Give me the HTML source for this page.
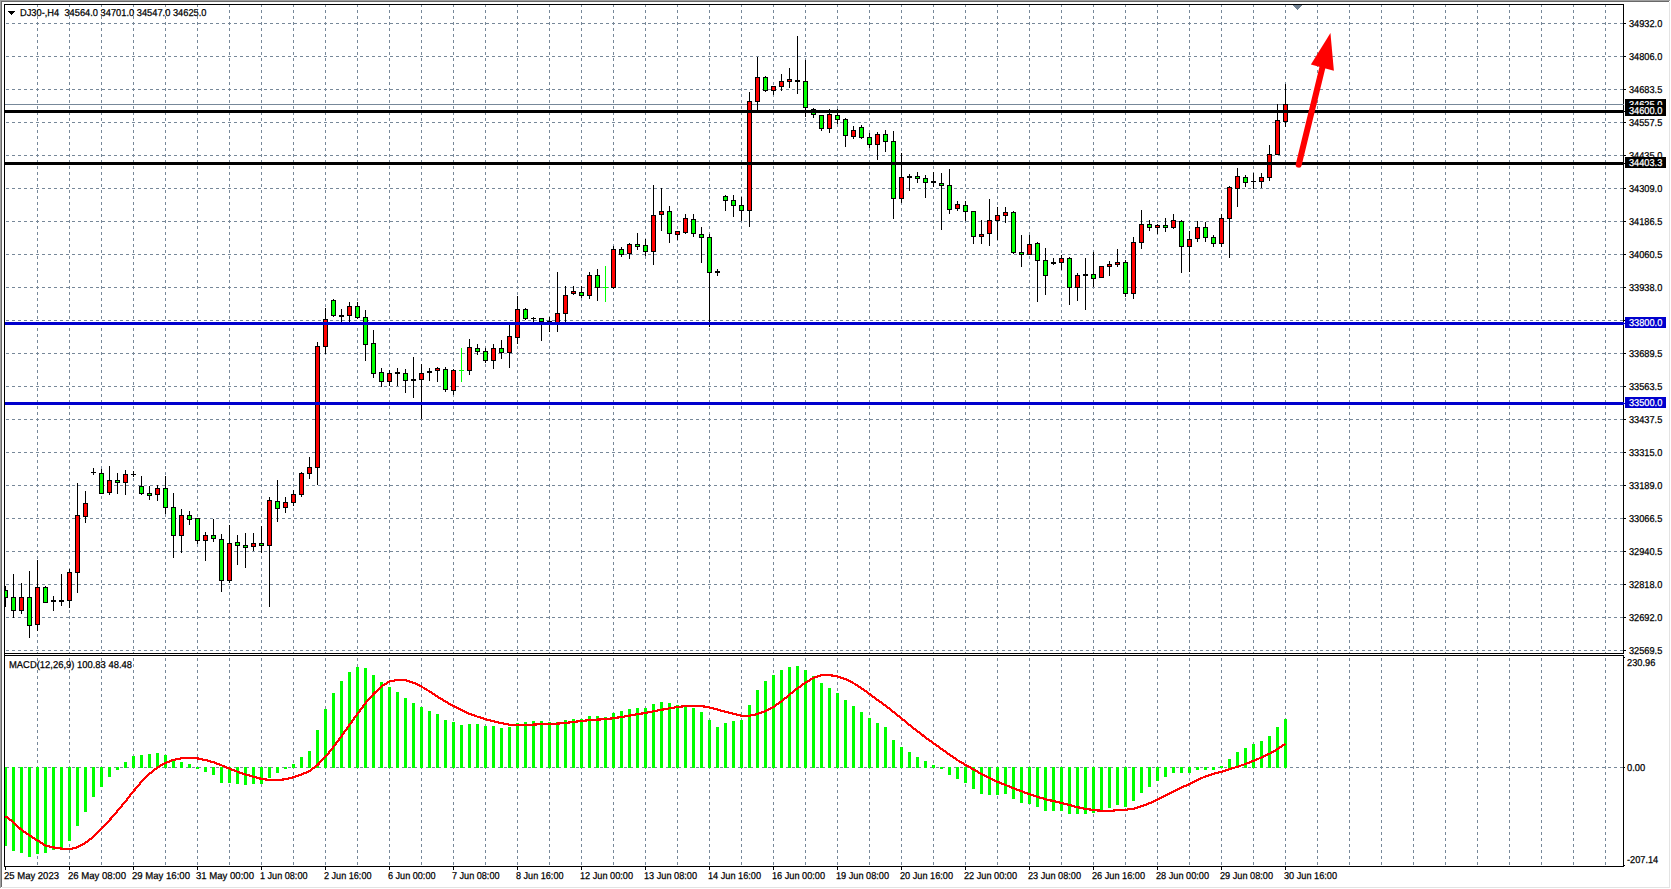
<!DOCTYPE html>
<html lang="en"><head><meta charset="utf-8"><title>DJ30-,H4</title>
<style>html,body{margin:0;padding:0;background:#fff;overflow:hidden}svg{display:block}text{font-family:"Liberation Sans",sans-serif;font-size:10px;fill:#000;stroke:#000;stroke-width:0.25px;text-rendering:geometricPrecision}</style></head><body>
<svg width="1671" height="889" viewBox="0 0 1671 889">
<rect width="1671" height="889" fill="#fff"/>
<g shape-rendering="crispEdges">
<rect x="0" y="0" width="1670" height="1" fill="#a0a0a0"/>
<rect x="0" y="0" width="1" height="888" fill="#a0a0a0"/>
<rect x="1" y="1" width="1668" height="1" fill="#696969"/>
<rect x="1" y="1" width="1" height="886" fill="#696969"/>
<rect x="1669" y="2" width="1" height="886" fill="#e3e3e3"/>
<rect x="2" y="887" width="1668" height="1" fill="#e3e3e3"/>
<g stroke="#778899" stroke-width="1" stroke-dasharray="3 3" fill="none">
<line x1="37.5" y1="4" x2="37.5" y2="866"/>
<line x1="69.5" y1="4" x2="69.5" y2="866"/>
<line x1="101.5" y1="4" x2="101.5" y2="866"/>
<line x1="133.5" y1="4" x2="133.5" y2="866"/>
<line x1="165.5" y1="4" x2="165.5" y2="866"/>
<line x1="197.5" y1="4" x2="197.5" y2="866"/>
<line x1="229.5" y1="4" x2="229.5" y2="866"/>
<line x1="261.5" y1="4" x2="261.5" y2="866"/>
<line x1="293.5" y1="4" x2="293.5" y2="866"/>
<line x1="325.5" y1="4" x2="325.5" y2="866"/>
<line x1="357.5" y1="4" x2="357.5" y2="866"/>
<line x1="389.5" y1="4" x2="389.5" y2="866"/>
<line x1="421.5" y1="4" x2="421.5" y2="866"/>
<line x1="453.5" y1="4" x2="453.5" y2="866"/>
<line x1="485.5" y1="4" x2="485.5" y2="866"/>
<line x1="517.5" y1="4" x2="517.5" y2="866"/>
<line x1="549.5" y1="4" x2="549.5" y2="866"/>
<line x1="581.5" y1="4" x2="581.5" y2="866"/>
<line x1="613.5" y1="4" x2="613.5" y2="866"/>
<line x1="645.5" y1="4" x2="645.5" y2="866"/>
<line x1="677.5" y1="4" x2="677.5" y2="866"/>
<line x1="709.5" y1="4" x2="709.5" y2="866"/>
<line x1="741.5" y1="4" x2="741.5" y2="866"/>
<line x1="773.5" y1="4" x2="773.5" y2="866"/>
<line x1="805.5" y1="4" x2="805.5" y2="866"/>
<line x1="837.5" y1="4" x2="837.5" y2="866"/>
<line x1="869.5" y1="4" x2="869.5" y2="866"/>
<line x1="901.5" y1="4" x2="901.5" y2="866"/>
<line x1="933.5" y1="4" x2="933.5" y2="866"/>
<line x1="965.5" y1="4" x2="965.5" y2="866"/>
<line x1="997.5" y1="4" x2="997.5" y2="866"/>
<line x1="1029.5" y1="4" x2="1029.5" y2="866"/>
<line x1="1061.5" y1="4" x2="1061.5" y2="866"/>
<line x1="1093.5" y1="4" x2="1093.5" y2="866"/>
<line x1="1125.5" y1="4" x2="1125.5" y2="866"/>
<line x1="1157.5" y1="4" x2="1157.5" y2="866"/>
<line x1="1189.5" y1="4" x2="1189.5" y2="866"/>
<line x1="1221.5" y1="4" x2="1221.5" y2="866"/>
<line x1="1253.5" y1="4" x2="1253.5" y2="866"/>
<line x1="1285.5" y1="4" x2="1285.5" y2="866"/>
<line x1="1317.5" y1="4" x2="1317.5" y2="866"/>
<line x1="1349.5" y1="4" x2="1349.5" y2="866"/>
<line x1="1381.5" y1="4" x2="1381.5" y2="866"/>
<line x1="1413.5" y1="4" x2="1413.5" y2="866"/>
<line x1="1445.5" y1="4" x2="1445.5" y2="866"/>
<line x1="1477.5" y1="4" x2="1477.5" y2="866"/>
<line x1="1509.5" y1="4" x2="1509.5" y2="866"/>
<line x1="1541.5" y1="4" x2="1541.5" y2="866"/>
<line x1="1573.5" y1="4" x2="1573.5" y2="866"/>
<line x1="1605.5" y1="4" x2="1605.5" y2="866"/>
<line x1="6" y1="23.5" x2="1623" y2="23.5"/>
<line x1="6" y1="56.5" x2="1623" y2="56.5"/>
<line x1="6" y1="89.5" x2="1623" y2="89.5"/>
<line x1="6" y1="122.5" x2="1623" y2="122.5"/>
<line x1="6" y1="155.5" x2="1623" y2="155.5"/>
<line x1="6" y1="188.5" x2="1623" y2="188.5"/>
<line x1="6" y1="221.5" x2="1623" y2="221.5"/>
<line x1="6" y1="254.5" x2="1623" y2="254.5"/>
<line x1="6" y1="287.5" x2="1623" y2="287.5"/>
<line x1="6" y1="320.5" x2="1623" y2="320.5"/>
<line x1="6" y1="353.5" x2="1623" y2="353.5"/>
<line x1="6" y1="386.5" x2="1623" y2="386.5"/>
<line x1="6" y1="419.5" x2="1623" y2="419.5"/>
<line x1="6" y1="452.5" x2="1623" y2="452.5"/>
<line x1="6" y1="485.5" x2="1623" y2="485.5"/>
<line x1="6" y1="518.5" x2="1623" y2="518.5"/>
<line x1="6" y1="551.5" x2="1623" y2="551.5"/>
<line x1="6" y1="584.5" x2="1623" y2="584.5"/>
<line x1="6" y1="617.5" x2="1623" y2="617.5"/>
<line x1="6" y1="650.5" x2="1623" y2="650.5"/>
<line x1="6" y1="767.5" x2="1623" y2="767.5"/>
</g>
<rect x="5" y="104" width="1618" height="1" fill="#778899"/>
<rect x="4" y="767" width="3" height="79" fill="#00ff00"/>
<rect x="12" y="767" width="3" height="84" fill="#00ff00"/>
<rect x="20" y="767" width="3" height="86" fill="#00ff00"/>
<rect x="28" y="767" width="3" height="90" fill="#00ff00"/>
<rect x="36" y="767" width="3" height="87" fill="#00ff00"/>
<rect x="44" y="767" width="3" height="86" fill="#00ff00"/>
<rect x="52" y="767" width="3" height="83" fill="#00ff00"/>
<rect x="60" y="767" width="3" height="81" fill="#00ff00"/>
<rect x="68" y="767" width="3" height="74" fill="#00ff00"/>
<rect x="76" y="767" width="3" height="59" fill="#00ff00"/>
<rect x="84" y="767" width="3" height="45" fill="#00ff00"/>
<rect x="92" y="767" width="3" height="30" fill="#00ff00"/>
<rect x="100" y="767" width="3" height="20" fill="#00ff00"/>
<rect x="108" y="767" width="3" height="10" fill="#00ff00"/>
<rect x="116" y="767" width="3" height="3" fill="#00ff00"/>
<rect x="124" y="762" width="3" height="6" fill="#00ff00"/>
<rect x="132" y="756" width="3" height="12" fill="#00ff00"/>
<rect x="140" y="755" width="3" height="13" fill="#00ff00"/>
<rect x="148" y="754" width="3" height="14" fill="#00ff00"/>
<rect x="156" y="753" width="3" height="15" fill="#00ff00"/>
<rect x="164" y="755" width="3" height="13" fill="#00ff00"/>
<rect x="172" y="759" width="3" height="9" fill="#00ff00"/>
<rect x="180" y="762" width="3" height="6" fill="#00ff00"/>
<rect x="188" y="764" width="3" height="4" fill="#00ff00"/>
<rect x="196" y="767" width="3" height="2" fill="#00ff00"/>
<rect x="204" y="767" width="3" height="5" fill="#00ff00"/>
<rect x="212" y="767" width="3" height="8" fill="#00ff00"/>
<rect x="220" y="767" width="3" height="16" fill="#00ff00"/>
<rect x="228" y="767" width="3" height="16" fill="#00ff00"/>
<rect x="236" y="767" width="3" height="17" fill="#00ff00"/>
<rect x="244" y="767" width="3" height="18" fill="#00ff00"/>
<rect x="252" y="767" width="3" height="17" fill="#00ff00"/>
<rect x="260" y="767" width="3" height="17" fill="#00ff00"/>
<rect x="268" y="767" width="3" height="11" fill="#00ff00"/>
<rect x="276" y="767" width="3" height="6" fill="#00ff00"/>
<rect x="284" y="767" width="3" height="2" fill="#00ff00"/>
<rect x="292" y="764" width="3" height="4" fill="#00ff00"/>
<rect x="300" y="757" width="3" height="11" fill="#00ff00"/>
<rect x="308" y="751" width="3" height="17" fill="#00ff00"/>
<rect x="316" y="730" width="3" height="38" fill="#00ff00"/>
<rect x="324" y="709" width="3" height="59" fill="#00ff00"/>
<rect x="332" y="693" width="3" height="75" fill="#00ff00"/>
<rect x="340" y="681" width="3" height="87" fill="#00ff00"/>
<rect x="348" y="672" width="3" height="96" fill="#00ff00"/>
<rect x="356" y="667" width="3" height="101" fill="#00ff00"/>
<rect x="364" y="668" width="3" height="100" fill="#00ff00"/>
<rect x="372" y="675" width="3" height="93" fill="#00ff00"/>
<rect x="380" y="682" width="3" height="86" fill="#00ff00"/>
<rect x="388" y="687" width="3" height="81" fill="#00ff00"/>
<rect x="396" y="692" width="3" height="76" fill="#00ff00"/>
<rect x="404" y="698" width="3" height="70" fill="#00ff00"/>
<rect x="412" y="703" width="3" height="65" fill="#00ff00"/>
<rect x="420" y="707" width="3" height="61" fill="#00ff00"/>
<rect x="428" y="711" width="3" height="57" fill="#00ff00"/>
<rect x="436" y="714" width="3" height="54" fill="#00ff00"/>
<rect x="444" y="720" width="3" height="48" fill="#00ff00"/>
<rect x="452" y="722" width="3" height="46" fill="#00ff00"/>
<rect x="460" y="725" width="3" height="43" fill="#00ff00"/>
<rect x="468" y="724" width="3" height="44" fill="#00ff00"/>
<rect x="476" y="724" width="3" height="44" fill="#00ff00"/>
<rect x="484" y="726" width="3" height="42" fill="#00ff00"/>
<rect x="492" y="726" width="3" height="42" fill="#00ff00"/>
<rect x="500" y="728" width="3" height="40" fill="#00ff00"/>
<rect x="508" y="727" width="3" height="41" fill="#00ff00"/>
<rect x="516" y="723" width="3" height="45" fill="#00ff00"/>
<rect x="524" y="722" width="3" height="46" fill="#00ff00"/>
<rect x="532" y="721" width="3" height="47" fill="#00ff00"/>
<rect x="540" y="721" width="3" height="47" fill="#00ff00"/>
<rect x="548" y="722" width="3" height="46" fill="#00ff00"/>
<rect x="556" y="722" width="3" height="46" fill="#00ff00"/>
<rect x="564" y="720" width="3" height="48" fill="#00ff00"/>
<rect x="572" y="719" width="3" height="49" fill="#00ff00"/>
<rect x="580" y="719" width="3" height="49" fill="#00ff00"/>
<rect x="588" y="716" width="3" height="52" fill="#00ff00"/>
<rect x="596" y="716" width="3" height="52" fill="#00ff00"/>
<rect x="604" y="717" width="3" height="51" fill="#00ff00"/>
<rect x="612" y="713" width="3" height="55" fill="#00ff00"/>
<rect x="620" y="711" width="3" height="57" fill="#00ff00"/>
<rect x="628" y="709" width="3" height="59" fill="#00ff00"/>
<rect x="636" y="708" width="3" height="60" fill="#00ff00"/>
<rect x="644" y="708" width="3" height="60" fill="#00ff00"/>
<rect x="652" y="704" width="3" height="64" fill="#00ff00"/>
<rect x="660" y="702" width="3" height="66" fill="#00ff00"/>
<rect x="668" y="703" width="3" height="65" fill="#00ff00"/>
<rect x="676" y="705" width="3" height="63" fill="#00ff00"/>
<rect x="684" y="705" width="3" height="63" fill="#00ff00"/>
<rect x="692" y="708" width="3" height="60" fill="#00ff00"/>
<rect x="700" y="712" width="3" height="56" fill="#00ff00"/>
<rect x="708" y="720" width="3" height="48" fill="#00ff00"/>
<rect x="716" y="727" width="3" height="41" fill="#00ff00"/>
<rect x="724" y="723" width="3" height="45" fill="#00ff00"/>
<rect x="732" y="721" width="3" height="47" fill="#00ff00"/>
<rect x="740" y="720" width="3" height="48" fill="#00ff00"/>
<rect x="748" y="705" width="3" height="63" fill="#00ff00"/>
<rect x="756" y="690" width="3" height="78" fill="#00ff00"/>
<rect x="764" y="681" width="3" height="87" fill="#00ff00"/>
<rect x="772" y="675" width="3" height="93" fill="#00ff00"/>
<rect x="780" y="670" width="3" height="98" fill="#00ff00"/>
<rect x="788" y="667" width="3" height="101" fill="#00ff00"/>
<rect x="796" y="666" width="3" height="102" fill="#00ff00"/>
<rect x="804" y="670" width="3" height="98" fill="#00ff00"/>
<rect x="812" y="676" width="3" height="92" fill="#00ff00"/>
<rect x="820" y="683" width="3" height="85" fill="#00ff00"/>
<rect x="828" y="688" width="3" height="80" fill="#00ff00"/>
<rect x="836" y="693" width="3" height="75" fill="#00ff00"/>
<rect x="844" y="700" width="3" height="68" fill="#00ff00"/>
<rect x="852" y="706" width="3" height="62" fill="#00ff00"/>
<rect x="860" y="712" width="3" height="56" fill="#00ff00"/>
<rect x="868" y="718" width="3" height="50" fill="#00ff00"/>
<rect x="876" y="723" width="3" height="45" fill="#00ff00"/>
<rect x="884" y="727" width="3" height="41" fill="#00ff00"/>
<rect x="892" y="740" width="3" height="28" fill="#00ff00"/>
<rect x="900" y="747" width="3" height="21" fill="#00ff00"/>
<rect x="908" y="752" width="3" height="16" fill="#00ff00"/>
<rect x="916" y="757" width="3" height="11" fill="#00ff00"/>
<rect x="924" y="761" width="3" height="7" fill="#00ff00"/>
<rect x="932" y="765" width="3" height="3" fill="#00ff00"/>
<rect x="940" y="767" width="3" height="2" fill="#00ff00"/>
<rect x="948" y="767" width="3" height="8" fill="#00ff00"/>
<rect x="956" y="767" width="3" height="12" fill="#00ff00"/>
<rect x="964" y="767" width="3" height="16" fill="#00ff00"/>
<rect x="972" y="767" width="3" height="22" fill="#00ff00"/>
<rect x="980" y="767" width="3" height="27" fill="#00ff00"/>
<rect x="988" y="767" width="3" height="28" fill="#00ff00"/>
<rect x="996" y="767" width="3" height="28" fill="#00ff00"/>
<rect x="1004" y="767" width="3" height="27" fill="#00ff00"/>
<rect x="1012" y="767" width="3" height="32" fill="#00ff00"/>
<rect x="1020" y="767" width="3" height="36" fill="#00ff00"/>
<rect x="1028" y="767" width="3" height="37" fill="#00ff00"/>
<rect x="1036" y="767" width="3" height="40" fill="#00ff00"/>
<rect x="1044" y="767" width="3" height="44" fill="#00ff00"/>
<rect x="1052" y="767" width="3" height="44" fill="#00ff00"/>
<rect x="1060" y="767" width="3" height="44" fill="#00ff00"/>
<rect x="1068" y="767" width="3" height="47" fill="#00ff00"/>
<rect x="1076" y="767" width="3" height="47" fill="#00ff00"/>
<rect x="1084" y="767" width="3" height="47" fill="#00ff00"/>
<rect x="1092" y="767" width="3" height="46" fill="#00ff00"/>
<rect x="1100" y="767" width="3" height="44" fill="#00ff00"/>
<rect x="1108" y="767" width="3" height="41" fill="#00ff00"/>
<rect x="1116" y="767" width="3" height="38" fill="#00ff00"/>
<rect x="1124" y="767" width="3" height="40" fill="#00ff00"/>
<rect x="1132" y="767" width="3" height="34" fill="#00ff00"/>
<rect x="1140" y="767" width="3" height="26" fill="#00ff00"/>
<rect x="1148" y="767" width="3" height="20" fill="#00ff00"/>
<rect x="1156" y="767" width="3" height="14" fill="#00ff00"/>
<rect x="1164" y="767" width="3" height="10" fill="#00ff00"/>
<rect x="1172" y="767" width="3" height="6" fill="#00ff00"/>
<rect x="1180" y="767" width="3" height="6" fill="#00ff00"/>
<rect x="1188" y="767" width="3" height="6" fill="#00ff00"/>
<rect x="1196" y="767" width="3" height="3" fill="#00ff00"/>
<rect x="1204" y="767" width="3" height="3" fill="#00ff00"/>
<rect x="1212" y="767" width="3" height="3" fill="#00ff00"/>
<rect x="1220" y="766" width="3" height="2" fill="#00ff00"/>
<rect x="1228" y="759" width="3" height="9" fill="#00ff00"/>
<rect x="1236" y="752" width="3" height="16" fill="#00ff00"/>
<rect x="1244" y="748" width="3" height="20" fill="#00ff00"/>
<rect x="1252" y="744" width="3" height="24" fill="#00ff00"/>
<rect x="1260" y="741" width="3" height="27" fill="#00ff00"/>
<rect x="1268" y="736" width="3" height="32" fill="#00ff00"/>
<rect x="1276" y="727" width="3" height="41" fill="#00ff00"/>
<rect x="1284" y="719" width="3" height="49" fill="#00ff00"/>
<clipPath id="cl"><rect x="5" y="5" width="1618" height="648"/></clipPath><g clip-path="url(#cl)">
<rect x="5" y="586" width="1" height="21" fill="#000"/>
<rect x="3" y="590" width="5" height="8" fill="#000"/>
<rect x="4" y="591" width="3" height="6" fill="#00ff00"/>
<rect x="13" y="574" width="1" height="44" fill="#000"/>
<rect x="11" y="597" width="5" height="14" fill="#000"/>
<rect x="12" y="598" width="3" height="12" fill="#00ff00"/>
<rect x="21" y="583" width="1" height="31" fill="#000"/>
<rect x="19" y="597" width="5" height="14" fill="#000"/>
<rect x="20" y="598" width="3" height="12" fill="#ff0000"/>
<rect x="29" y="571" width="1" height="67" fill="#000"/>
<rect x="27" y="597" width="5" height="29" fill="#000"/>
<rect x="28" y="598" width="3" height="27" fill="#00ff00"/>
<rect x="37" y="560" width="1" height="71" fill="#000"/>
<rect x="35" y="587" width="5" height="38" fill="#000"/>
<rect x="36" y="588" width="3" height="36" fill="#ff0000"/>
<rect x="45" y="586" width="1" height="17" fill="#000"/>
<rect x="43" y="587" width="5" height="16" fill="#000"/>
<rect x="44" y="588" width="3" height="14" fill="#00ff00"/>
<rect x="53" y="596" width="1" height="15" fill="#000"/>
<rect x="51" y="600" width="5" height="2" fill="#000"/>
<rect x="61" y="574" width="1" height="32" fill="#000"/>
<rect x="59" y="600" width="5" height="2" fill="#000"/>
<rect x="69" y="569" width="1" height="39" fill="#000"/>
<rect x="67" y="572" width="5" height="29" fill="#000"/>
<rect x="68" y="573" width="3" height="27" fill="#ff0000"/>
<rect x="77" y="483" width="1" height="110" fill="#000"/>
<rect x="75" y="515" width="5" height="58" fill="#000"/>
<rect x="76" y="516" width="3" height="56" fill="#ff0000"/>
<rect x="85" y="491" width="1" height="32" fill="#000"/>
<rect x="83" y="503" width="5" height="14" fill="#000"/>
<rect x="84" y="504" width="3" height="12" fill="#ff0000"/>
<rect x="93" y="468" width="1" height="7" fill="#000"/>
<rect x="91" y="472" width="5" height="1" fill="#000"/>
<rect x="101" y="469" width="1" height="25" fill="#000"/>
<rect x="99" y="473" width="5" height="21" fill="#000"/>
<rect x="100" y="474" width="3" height="19" fill="#00ff00"/>
<rect x="109" y="466" width="1" height="29" fill="#000"/>
<rect x="107" y="480" width="5" height="13" fill="#000"/>
<rect x="108" y="481" width="3" height="11" fill="#ff0000"/>
<rect x="117" y="473" width="1" height="21" fill="#000"/>
<rect x="115" y="480" width="5" height="3" fill="#000"/>
<rect x="116" y="481" width="3" height="1" fill="#00ff00"/>
<rect x="125" y="470" width="1" height="25" fill="#000"/>
<rect x="123" y="474" width="5" height="9" fill="#000"/>
<rect x="124" y="475" width="3" height="7" fill="#ff0000"/>
<rect x="133" y="471" width="1" height="6" fill="#000"/>
<rect x="131" y="474" width="5" height="1" fill="#000"/>
<rect x="141" y="476" width="1" height="19" fill="#000"/>
<rect x="139" y="486" width="5" height="8" fill="#000"/>
<rect x="140" y="487" width="3" height="6" fill="#00ff00"/>
<rect x="149" y="486" width="1" height="14" fill="#000"/>
<rect x="147" y="493" width="5" height="3" fill="#000"/>
<rect x="148" y="494" width="3" height="1" fill="#00ff00"/>
<rect x="157" y="485" width="1" height="16" fill="#000"/>
<rect x="155" y="488" width="5" height="7" fill="#000"/>
<rect x="156" y="489" width="3" height="5" fill="#ff0000"/>
<rect x="165" y="476" width="1" height="38" fill="#000"/>
<rect x="163" y="488" width="5" height="20" fill="#000"/>
<rect x="164" y="489" width="3" height="18" fill="#00ff00"/>
<rect x="173" y="493" width="1" height="65" fill="#000"/>
<rect x="171" y="507" width="5" height="29" fill="#000"/>
<rect x="172" y="508" width="3" height="27" fill="#00ff00"/>
<rect x="181" y="509" width="1" height="44" fill="#000"/>
<rect x="179" y="515" width="5" height="21" fill="#000"/>
<rect x="180" y="516" width="3" height="19" fill="#ff0000"/>
<rect x="189" y="511" width="1" height="14" fill="#000"/>
<rect x="187" y="515" width="5" height="5" fill="#000"/>
<rect x="188" y="516" width="3" height="3" fill="#00ff00"/>
<rect x="197" y="518" width="1" height="26" fill="#000"/>
<rect x="195" y="518" width="5" height="23" fill="#000"/>
<rect x="196" y="519" width="3" height="21" fill="#00ff00"/>
<rect x="205" y="532" width="1" height="29" fill="#000"/>
<rect x="203" y="535" width="5" height="6" fill="#000"/>
<rect x="204" y="536" width="3" height="4" fill="#ff0000"/>
<rect x="213" y="519" width="1" height="23" fill="#000"/>
<rect x="211" y="535" width="5" height="4" fill="#000"/>
<rect x="212" y="536" width="3" height="2" fill="#00ff00"/>
<rect x="221" y="534" width="1" height="58" fill="#000"/>
<rect x="219" y="539" width="5" height="42" fill="#000"/>
<rect x="220" y="540" width="3" height="40" fill="#00ff00"/>
<rect x="229" y="525" width="1" height="58" fill="#000"/>
<rect x="227" y="543" width="5" height="38" fill="#000"/>
<rect x="228" y="544" width="3" height="36" fill="#ff0000"/>
<rect x="237" y="535" width="1" height="30" fill="#000"/>
<rect x="235" y="542" width="5" height="4" fill="#000"/>
<rect x="236" y="543" width="3" height="2" fill="#00ff00"/>
<rect x="245" y="533" width="1" height="35" fill="#000"/>
<rect x="243" y="545" width="5" height="3" fill="#000"/>
<rect x="244" y="546" width="3" height="1" fill="#00ff00"/>
<rect x="253" y="533" width="1" height="18" fill="#000"/>
<rect x="251" y="543" width="5" height="4" fill="#000"/>
<rect x="252" y="544" width="3" height="2" fill="#ff0000"/>
<rect x="261" y="526" width="1" height="27" fill="#000"/>
<rect x="259" y="543" width="5" height="3" fill="#000"/>
<rect x="260" y="544" width="3" height="1" fill="#00ff00"/>
<rect x="269" y="497" width="1" height="110" fill="#000"/>
<rect x="267" y="500" width="5" height="46" fill="#000"/>
<rect x="268" y="501" width="3" height="44" fill="#ff0000"/>
<rect x="277" y="480" width="1" height="42" fill="#000"/>
<rect x="275" y="501" width="5" height="8" fill="#000"/>
<rect x="276" y="502" width="3" height="6" fill="#00ff00"/>
<rect x="285" y="497" width="1" height="16" fill="#000"/>
<rect x="283" y="502" width="5" height="6" fill="#000"/>
<rect x="284" y="503" width="3" height="4" fill="#ff0000"/>
<rect x="293" y="490" width="1" height="16" fill="#000"/>
<rect x="291" y="494" width="5" height="9" fill="#000"/>
<rect x="292" y="495" width="3" height="7" fill="#ff0000"/>
<rect x="301" y="472" width="1" height="25" fill="#000"/>
<rect x="299" y="473" width="5" height="22" fill="#000"/>
<rect x="300" y="474" width="3" height="20" fill="#ff0000"/>
<rect x="309" y="457" width="1" height="22" fill="#000"/>
<rect x="307" y="467" width="5" height="7" fill="#000"/>
<rect x="308" y="468" width="3" height="5" fill="#ff0000"/>
<rect x="317" y="342" width="1" height="143" fill="#000"/>
<rect x="315" y="346" width="5" height="122" fill="#000"/>
<rect x="316" y="347" width="3" height="120" fill="#ff0000"/>
<rect x="325" y="308" width="1" height="46" fill="#000"/>
<rect x="323" y="319" width="5" height="28" fill="#000"/>
<rect x="324" y="320" width="3" height="26" fill="#ff0000"/>
<rect x="333" y="299" width="1" height="18" fill="#000"/>
<rect x="331" y="300" width="5" height="16" fill="#000"/>
<rect x="332" y="301" width="3" height="14" fill="#00ff00"/>
<rect x="341" y="309" width="1" height="13" fill="#000"/>
<rect x="339" y="315" width="5" height="2" fill="#000"/>
<rect x="349" y="302" width="1" height="20" fill="#000"/>
<rect x="347" y="306" width="5" height="10" fill="#000"/>
<rect x="348" y="307" width="3" height="8" fill="#ff0000"/>
<rect x="357" y="302" width="1" height="17" fill="#000"/>
<rect x="355" y="306" width="5" height="12" fill="#000"/>
<rect x="356" y="307" width="3" height="10" fill="#00ff00"/>
<rect x="365" y="310" width="1" height="51" fill="#000"/>
<rect x="363" y="317" width="5" height="28" fill="#000"/>
<rect x="364" y="318" width="3" height="26" fill="#00ff00"/>
<rect x="373" y="330" width="1" height="48" fill="#000"/>
<rect x="371" y="343" width="5" height="31" fill="#000"/>
<rect x="372" y="344" width="3" height="29" fill="#00ff00"/>
<rect x="381" y="368" width="1" height="19" fill="#000"/>
<rect x="379" y="372" width="5" height="10" fill="#000"/>
<rect x="380" y="373" width="3" height="8" fill="#00ff00"/>
<rect x="389" y="370" width="1" height="16" fill="#000"/>
<rect x="387" y="373" width="5" height="9" fill="#000"/>
<rect x="388" y="374" width="3" height="7" fill="#ff0000"/>
<rect x="397" y="368" width="1" height="18" fill="#000"/>
<rect x="395" y="372" width="5" height="2" fill="#000"/>
<rect x="405" y="369" width="1" height="24" fill="#000"/>
<rect x="403" y="373" width="5" height="8" fill="#000"/>
<rect x="404" y="374" width="3" height="6" fill="#00ff00"/>
<rect x="413" y="357" width="1" height="41" fill="#000"/>
<rect x="411" y="379" width="5" height="2" fill="#000"/>
<rect x="421" y="364" width="1" height="55" fill="#000"/>
<rect x="419" y="373" width="5" height="7" fill="#000"/>
<rect x="420" y="374" width="3" height="5" fill="#ff0000"/>
<rect x="429" y="368" width="1" height="13" fill="#000"/>
<rect x="427" y="371" width="5" height="2" fill="#000"/>
<rect x="437" y="367" width="1" height="15" fill="#000"/>
<rect x="435" y="368" width="5" height="3" fill="#000"/>
<rect x="436" y="369" width="3" height="1" fill="#ff0000"/>
<rect x="445" y="367" width="1" height="25" fill="#000"/>
<rect x="443" y="369" width="5" height="21" fill="#000"/>
<rect x="444" y="370" width="3" height="19" fill="#00ff00"/>
<rect x="453" y="369" width="1" height="26" fill="#000"/>
<rect x="451" y="370" width="5" height="21" fill="#000"/>
<rect x="452" y="371" width="3" height="19" fill="#ff0000"/>
<rect x="461" y="348" width="1" height="34" fill="#00ff00"/>
<rect x="459" y="370" width="5" height="1" fill="#00ff00"/>
<rect x="469" y="339" width="1" height="36" fill="#000"/>
<rect x="467" y="347" width="5" height="24" fill="#000"/>
<rect x="468" y="348" width="3" height="22" fill="#ff0000"/>
<rect x="477" y="344" width="1" height="11" fill="#000"/>
<rect x="475" y="348" width="5" height="4" fill="#000"/>
<rect x="476" y="349" width="3" height="2" fill="#00ff00"/>
<rect x="485" y="348" width="1" height="15" fill="#000"/>
<rect x="483" y="351" width="5" height="10" fill="#000"/>
<rect x="484" y="352" width="3" height="8" fill="#00ff00"/>
<rect x="493" y="344" width="1" height="25" fill="#000"/>
<rect x="491" y="348" width="5" height="13" fill="#000"/>
<rect x="492" y="349" width="3" height="11" fill="#ff0000"/>
<rect x="501" y="340" width="1" height="19" fill="#000"/>
<rect x="499" y="348" width="5" height="5" fill="#000"/>
<rect x="500" y="349" width="3" height="3" fill="#00ff00"/>
<rect x="509" y="323" width="1" height="45" fill="#000"/>
<rect x="507" y="336" width="5" height="17" fill="#000"/>
<rect x="508" y="337" width="3" height="15" fill="#ff0000"/>
<rect x="517" y="296" width="1" height="48" fill="#000"/>
<rect x="515" y="309" width="5" height="29" fill="#000"/>
<rect x="516" y="310" width="3" height="27" fill="#ff0000"/>
<rect x="525" y="308" width="1" height="12" fill="#000"/>
<rect x="523" y="309" width="5" height="10" fill="#000"/>
<rect x="524" y="310" width="3" height="8" fill="#00ff00"/>
<rect x="533" y="317" width="1" height="5" fill="#000"/>
<rect x="531" y="318" width="5" height="1" fill="#000"/>
<rect x="541" y="318" width="1" height="23" fill="#000"/>
<rect x="539" y="318" width="5" height="4" fill="#000"/>
<rect x="540" y="319" width="3" height="2" fill="#00ff00"/>
<rect x="549" y="317" width="1" height="15" fill="#000"/>
<rect x="547" y="321" width="5" height="1" fill="#000"/>
<rect x="557" y="272" width="1" height="60" fill="#000"/>
<rect x="555" y="313" width="5" height="11" fill="#000"/>
<rect x="556" y="314" width="3" height="9" fill="#ff0000"/>
<rect x="565" y="286" width="1" height="37" fill="#000"/>
<rect x="563" y="295" width="5" height="19" fill="#000"/>
<rect x="564" y="296" width="3" height="17" fill="#ff0000"/>
<rect x="573" y="286" width="1" height="9" fill="#000"/>
<rect x="571" y="291" width="5" height="3" fill="#000"/>
<rect x="572" y="292" width="3" height="1" fill="#ff0000"/>
<rect x="581" y="286" width="1" height="12" fill="#000"/>
<rect x="579" y="292" width="5" height="4" fill="#000"/>
<rect x="580" y="293" width="3" height="2" fill="#00ff00"/>
<rect x="589" y="272" width="1" height="27" fill="#000"/>
<rect x="587" y="275" width="5" height="21" fill="#000"/>
<rect x="588" y="276" width="3" height="19" fill="#ff0000"/>
<rect x="597" y="269" width="1" height="32" fill="#000"/>
<rect x="595" y="275" width="5" height="13" fill="#000"/>
<rect x="596" y="276" width="3" height="11" fill="#00ff00"/>
<rect x="605" y="266" width="1" height="36" fill="#00ff00"/>
<rect x="603" y="287" width="5" height="1" fill="#00ff00"/>
<rect x="613" y="246" width="1" height="43" fill="#000"/>
<rect x="611" y="249" width="5" height="39" fill="#000"/>
<rect x="612" y="250" width="3" height="37" fill="#ff0000"/>
<rect x="621" y="247" width="1" height="10" fill="#000"/>
<rect x="619" y="249" width="5" height="6" fill="#000"/>
<rect x="620" y="250" width="3" height="4" fill="#00ff00"/>
<rect x="629" y="243" width="1" height="16" fill="#000"/>
<rect x="627" y="244" width="5" height="10" fill="#000"/>
<rect x="628" y="245" width="3" height="8" fill="#ff0000"/>
<rect x="637" y="233" width="1" height="17" fill="#000"/>
<rect x="635" y="244" width="5" height="3" fill="#000"/>
<rect x="636" y="245" width="3" height="1" fill="#00ff00"/>
<rect x="645" y="239" width="1" height="17" fill="#000"/>
<rect x="643" y="245" width="5" height="7" fill="#000"/>
<rect x="644" y="246" width="3" height="5" fill="#00ff00"/>
<rect x="653" y="185" width="1" height="80" fill="#000"/>
<rect x="651" y="215" width="5" height="37" fill="#000"/>
<rect x="652" y="216" width="3" height="35" fill="#ff0000"/>
<rect x="661" y="188" width="1" height="43" fill="#000"/>
<rect x="659" y="211" width="5" height="4" fill="#000"/>
<rect x="660" y="212" width="3" height="2" fill="#ff0000"/>
<rect x="669" y="206" width="1" height="37" fill="#000"/>
<rect x="667" y="211" width="5" height="23" fill="#000"/>
<rect x="668" y="212" width="3" height="21" fill="#00ff00"/>
<rect x="677" y="231" width="1" height="9" fill="#000"/>
<rect x="675" y="231" width="5" height="4" fill="#000"/>
<rect x="676" y="232" width="3" height="2" fill="#ff0000"/>
<rect x="685" y="214" width="1" height="20" fill="#000"/>
<rect x="683" y="218" width="5" height="15" fill="#000"/>
<rect x="684" y="219" width="3" height="13" fill="#ff0000"/>
<rect x="693" y="214" width="1" height="23" fill="#000"/>
<rect x="691" y="219" width="5" height="15" fill="#000"/>
<rect x="692" y="220" width="3" height="13" fill="#00ff00"/>
<rect x="701" y="227" width="1" height="36" fill="#000"/>
<rect x="699" y="234" width="5" height="4" fill="#000"/>
<rect x="700" y="235" width="3" height="2" fill="#00ff00"/>
<rect x="709" y="234" width="1" height="93" fill="#000"/>
<rect x="707" y="237" width="5" height="36" fill="#000"/>
<rect x="708" y="238" width="3" height="34" fill="#00ff00"/>
<rect x="717" y="269" width="1" height="7" fill="#000"/>
<rect x="715" y="271" width="5" height="2" fill="#000"/>
<rect x="725" y="195" width="1" height="16" fill="#000"/>
<rect x="723" y="196" width="5" height="5" fill="#000"/>
<rect x="724" y="197" width="3" height="3" fill="#00ff00"/>
<rect x="733" y="195" width="1" height="22" fill="#000"/>
<rect x="731" y="200" width="5" height="6" fill="#000"/>
<rect x="732" y="201" width="3" height="4" fill="#00ff00"/>
<rect x="741" y="197" width="1" height="24" fill="#000"/>
<rect x="739" y="205" width="5" height="6" fill="#000"/>
<rect x="740" y="206" width="3" height="4" fill="#00ff00"/>
<rect x="749" y="92" width="1" height="135" fill="#000"/>
<rect x="747" y="101" width="5" height="110" fill="#000"/>
<rect x="748" y="102" width="3" height="108" fill="#ff0000"/>
<rect x="757" y="57" width="1" height="56" fill="#000"/>
<rect x="755" y="77" width="5" height="25" fill="#000"/>
<rect x="756" y="78" width="3" height="23" fill="#ff0000"/>
<rect x="765" y="76" width="1" height="16" fill="#000"/>
<rect x="763" y="77" width="5" height="14" fill="#000"/>
<rect x="764" y="78" width="3" height="12" fill="#00ff00"/>
<rect x="773" y="86" width="1" height="9" fill="#000"/>
<rect x="771" y="86" width="5" height="5" fill="#000"/>
<rect x="772" y="87" width="3" height="3" fill="#ff0000"/>
<rect x="781" y="74" width="1" height="17" fill="#000"/>
<rect x="779" y="81" width="5" height="6" fill="#000"/>
<rect x="780" y="82" width="3" height="4" fill="#ff0000"/>
<rect x="789" y="68" width="1" height="20" fill="#000"/>
<rect x="787" y="79" width="5" height="3" fill="#000"/>
<rect x="788" y="80" width="3" height="1" fill="#ff0000"/>
<rect x="797" y="36" width="1" height="58" fill="#000"/>
<rect x="795" y="80" width="5" height="2" fill="#000"/>
<rect x="805" y="60" width="1" height="57" fill="#000"/>
<rect x="803" y="81" width="5" height="27" fill="#000"/>
<rect x="804" y="82" width="3" height="25" fill="#00ff00"/>
<rect x="813" y="108" width="1" height="10" fill="#000"/>
<rect x="811" y="109" width="5" height="6" fill="#000"/>
<rect x="812" y="110" width="3" height="4" fill="#00ff00"/>
<rect x="821" y="115" width="1" height="16" fill="#000"/>
<rect x="819" y="115" width="5" height="14" fill="#000"/>
<rect x="820" y="116" width="3" height="12" fill="#00ff00"/>
<rect x="829" y="109" width="1" height="24" fill="#000"/>
<rect x="827" y="114" width="5" height="15" fill="#000"/>
<rect x="828" y="115" width="3" height="13" fill="#ff0000"/>
<rect x="837" y="109" width="1" height="15" fill="#000"/>
<rect x="835" y="115" width="5" height="5" fill="#000"/>
<rect x="836" y="116" width="3" height="3" fill="#00ff00"/>
<rect x="845" y="118" width="1" height="29" fill="#000"/>
<rect x="843" y="119" width="5" height="17" fill="#000"/>
<rect x="844" y="120" width="3" height="15" fill="#00ff00"/>
<rect x="853" y="126" width="1" height="13" fill="#000"/>
<rect x="851" y="130" width="5" height="7" fill="#000"/>
<rect x="852" y="131" width="3" height="5" fill="#ff0000"/>
<rect x="861" y="125" width="1" height="14" fill="#000"/>
<rect x="859" y="127" width="5" height="11" fill="#000"/>
<rect x="860" y="128" width="3" height="9" fill="#00ff00"/>
<rect x="869" y="133" width="1" height="15" fill="#000"/>
<rect x="867" y="137" width="5" height="8" fill="#000"/>
<rect x="868" y="138" width="3" height="6" fill="#00ff00"/>
<rect x="877" y="132" width="1" height="28" fill="#000"/>
<rect x="875" y="134" width="5" height="11" fill="#000"/>
<rect x="876" y="135" width="3" height="9" fill="#ff0000"/>
<rect x="885" y="130" width="1" height="22" fill="#000"/>
<rect x="883" y="134" width="5" height="8" fill="#000"/>
<rect x="884" y="135" width="3" height="6" fill="#00ff00"/>
<rect x="893" y="131" width="1" height="88" fill="#000"/>
<rect x="891" y="141" width="5" height="58" fill="#000"/>
<rect x="892" y="142" width="3" height="56" fill="#00ff00"/>
<rect x="901" y="153" width="1" height="50" fill="#000"/>
<rect x="899" y="177" width="5" height="22" fill="#000"/>
<rect x="900" y="178" width="3" height="20" fill="#ff0000"/>
<rect x="909" y="174" width="1" height="17" fill="#000"/>
<rect x="907" y="176" width="5" height="2" fill="#000"/>
<rect x="917" y="172" width="1" height="11" fill="#000"/>
<rect x="915" y="176" width="5" height="3" fill="#000"/>
<rect x="916" y="177" width="3" height="1" fill="#00ff00"/>
<rect x="925" y="175" width="1" height="23" fill="#000"/>
<rect x="923" y="178" width="5" height="5" fill="#000"/>
<rect x="924" y="179" width="3" height="3" fill="#00ff00"/>
<rect x="933" y="172" width="1" height="15" fill="#000"/>
<rect x="931" y="181" width="5" height="2" fill="#000"/>
<rect x="941" y="173" width="1" height="57" fill="#000"/>
<rect x="939" y="183" width="5" height="3" fill="#000"/>
<rect x="940" y="184" width="3" height="1" fill="#00ff00"/>
<rect x="949" y="169" width="1" height="45" fill="#000"/>
<rect x="947" y="185" width="5" height="25" fill="#000"/>
<rect x="948" y="186" width="3" height="23" fill="#00ff00"/>
<rect x="957" y="201" width="1" height="10" fill="#000"/>
<rect x="955" y="204" width="5" height="5" fill="#000"/>
<rect x="956" y="205" width="3" height="3" fill="#ff0000"/>
<rect x="965" y="201" width="1" height="20" fill="#000"/>
<rect x="963" y="205" width="5" height="7" fill="#000"/>
<rect x="964" y="206" width="3" height="5" fill="#00ff00"/>
<rect x="973" y="211" width="1" height="33" fill="#000"/>
<rect x="971" y="211" width="5" height="26" fill="#000"/>
<rect x="972" y="212" width="3" height="24" fill="#00ff00"/>
<rect x="981" y="220" width="1" height="24" fill="#000"/>
<rect x="979" y="234" width="5" height="3" fill="#000"/>
<rect x="980" y="235" width="3" height="1" fill="#ff0000"/>
<rect x="989" y="199" width="1" height="47" fill="#000"/>
<rect x="987" y="220" width="5" height="14" fill="#000"/>
<rect x="988" y="221" width="3" height="12" fill="#ff0000"/>
<rect x="997" y="207" width="1" height="33" fill="#000"/>
<rect x="995" y="215" width="5" height="6" fill="#000"/>
<rect x="996" y="216" width="3" height="4" fill="#ff0000"/>
<rect x="1005" y="207" width="1" height="16" fill="#000"/>
<rect x="1003" y="212" width="5" height="4" fill="#000"/>
<rect x="1004" y="213" width="3" height="2" fill="#ff0000"/>
<rect x="1013" y="211" width="1" height="43" fill="#000"/>
<rect x="1011" y="212" width="5" height="41" fill="#000"/>
<rect x="1012" y="213" width="3" height="39" fill="#00ff00"/>
<rect x="1021" y="235" width="1" height="32" fill="#000"/>
<rect x="1019" y="252" width="5" height="3" fill="#000"/>
<rect x="1020" y="253" width="3" height="1" fill="#00ff00"/>
<rect x="1029" y="235" width="1" height="20" fill="#000"/>
<rect x="1027" y="244" width="5" height="11" fill="#000"/>
<rect x="1028" y="245" width="3" height="9" fill="#ff0000"/>
<rect x="1037" y="242" width="1" height="60" fill="#000"/>
<rect x="1035" y="243" width="5" height="18" fill="#000"/>
<rect x="1036" y="244" width="3" height="16" fill="#00ff00"/>
<rect x="1045" y="248" width="1" height="47" fill="#000"/>
<rect x="1043" y="260" width="5" height="16" fill="#000"/>
<rect x="1044" y="261" width="3" height="14" fill="#00ff00"/>
<rect x="1053" y="258" width="1" height="7" fill="#000"/>
<rect x="1051" y="262" width="5" height="2" fill="#000"/>
<rect x="1061" y="255" width="1" height="15" fill="#000"/>
<rect x="1059" y="258" width="5" height="5" fill="#000"/>
<rect x="1060" y="259" width="3" height="3" fill="#ff0000"/>
<rect x="1069" y="257" width="1" height="48" fill="#000"/>
<rect x="1067" y="258" width="5" height="30" fill="#000"/>
<rect x="1068" y="259" width="3" height="28" fill="#00ff00"/>
<rect x="1077" y="273" width="1" height="28" fill="#000"/>
<rect x="1075" y="275" width="5" height="13" fill="#000"/>
<rect x="1076" y="276" width="3" height="11" fill="#ff0000"/>
<rect x="1085" y="258" width="1" height="52" fill="#000"/>
<rect x="1083" y="274" width="5" height="2" fill="#000"/>
<rect x="1093" y="252" width="1" height="35" fill="#000"/>
<rect x="1091" y="274" width="5" height="5" fill="#000"/>
<rect x="1092" y="275" width="3" height="3" fill="#00ff00"/>
<rect x="1101" y="266" width="1" height="12" fill="#000"/>
<rect x="1099" y="266" width="5" height="12" fill="#000"/>
<rect x="1100" y="267" width="3" height="10" fill="#ff0000"/>
<rect x="1109" y="261" width="1" height="15" fill="#000"/>
<rect x="1107" y="264" width="5" height="3" fill="#000"/>
<rect x="1108" y="265" width="3" height="1" fill="#ff0000"/>
<rect x="1117" y="249" width="1" height="18" fill="#000"/>
<rect x="1115" y="262" width="5" height="3" fill="#000"/>
<rect x="1116" y="263" width="3" height="1" fill="#ff0000"/>
<rect x="1125" y="260" width="1" height="37" fill="#000"/>
<rect x="1123" y="262" width="5" height="32" fill="#000"/>
<rect x="1124" y="263" width="3" height="30" fill="#00ff00"/>
<rect x="1133" y="237" width="1" height="62" fill="#000"/>
<rect x="1131" y="242" width="5" height="52" fill="#000"/>
<rect x="1132" y="243" width="3" height="50" fill="#ff0000"/>
<rect x="1141" y="210" width="1" height="39" fill="#000"/>
<rect x="1139" y="224" width="5" height="19" fill="#000"/>
<rect x="1140" y="225" width="3" height="17" fill="#ff0000"/>
<rect x="1149" y="220" width="1" height="11" fill="#000"/>
<rect x="1147" y="224" width="5" height="4" fill="#000"/>
<rect x="1148" y="225" width="3" height="2" fill="#00ff00"/>
<rect x="1157" y="224" width="1" height="10" fill="#000"/>
<rect x="1155" y="225" width="5" height="3" fill="#000"/>
<rect x="1156" y="226" width="3" height="1" fill="#ff0000"/>
<rect x="1165" y="218" width="1" height="14" fill="#000"/>
<rect x="1163" y="225" width="5" height="3" fill="#000"/>
<rect x="1164" y="226" width="3" height="1" fill="#00ff00"/>
<rect x="1173" y="214" width="1" height="15" fill="#000"/>
<rect x="1171" y="220" width="5" height="8" fill="#000"/>
<rect x="1172" y="221" width="3" height="6" fill="#ff0000"/>
<rect x="1181" y="220" width="1" height="53" fill="#000"/>
<rect x="1179" y="221" width="5" height="26" fill="#000"/>
<rect x="1180" y="222" width="3" height="24" fill="#00ff00"/>
<rect x="1189" y="231" width="1" height="41" fill="#000"/>
<rect x="1187" y="239" width="5" height="8" fill="#000"/>
<rect x="1188" y="240" width="3" height="6" fill="#ff0000"/>
<rect x="1197" y="221" width="1" height="21" fill="#000"/>
<rect x="1195" y="227" width="5" height="12" fill="#000"/>
<rect x="1196" y="228" width="3" height="10" fill="#ff0000"/>
<rect x="1205" y="222" width="1" height="20" fill="#000"/>
<rect x="1203" y="227" width="5" height="11" fill="#000"/>
<rect x="1204" y="228" width="3" height="9" fill="#00ff00"/>
<rect x="1213" y="235" width="1" height="12" fill="#000"/>
<rect x="1211" y="237" width="5" height="7" fill="#000"/>
<rect x="1212" y="238" width="3" height="5" fill="#00ff00"/>
<rect x="1221" y="214" width="1" height="33" fill="#000"/>
<rect x="1219" y="218" width="5" height="26" fill="#000"/>
<rect x="1220" y="219" width="3" height="24" fill="#ff0000"/>
<rect x="1229" y="186" width="1" height="72" fill="#000"/>
<rect x="1227" y="187" width="5" height="32" fill="#000"/>
<rect x="1228" y="188" width="3" height="30" fill="#ff0000"/>
<rect x="1237" y="168" width="1" height="39" fill="#000"/>
<rect x="1235" y="176" width="5" height="13" fill="#000"/>
<rect x="1236" y="177" width="3" height="11" fill="#ff0000"/>
<rect x="1245" y="175" width="1" height="12" fill="#000"/>
<rect x="1243" y="177" width="5" height="6" fill="#000"/>
<rect x="1244" y="178" width="3" height="4" fill="#00ff00"/>
<rect x="1253" y="173" width="1" height="16" fill="#000"/>
<rect x="1251" y="181" width="5" height="1" fill="#000"/>
<rect x="1261" y="173" width="1" height="15" fill="#000"/>
<rect x="1259" y="177" width="5" height="5" fill="#000"/>
<rect x="1260" y="178" width="3" height="3" fill="#ff0000"/>
<rect x="1269" y="145" width="1" height="36" fill="#000"/>
<rect x="1267" y="154" width="5" height="24" fill="#000"/>
<rect x="1268" y="155" width="3" height="22" fill="#ff0000"/>
<rect x="1277" y="104" width="1" height="51" fill="#000"/>
<rect x="1275" y="120" width="5" height="35" fill="#000"/>
<rect x="1276" y="121" width="3" height="33" fill="#ff0000"/>
<rect x="1285" y="84" width="1" height="43" fill="#000"/>
<rect x="1283" y="104" width="5" height="18" fill="#000"/>
<rect x="1284" y="105" width="3" height="16" fill="#ff0000"/>
</g>
<rect x="4" y="4" width="1620" height="1" fill="#000"/>
<rect x="4" y="4" width="1" height="863" fill="#000"/>
<rect x="1623" y="4" width="1" height="863" fill="#000"/>
<rect x="4" y="653" width="1620" height="1" fill="#000"/>
<rect x="5" y="654" width="1619" height="1" fill="#fff"/>
<rect x="4" y="655" width="1620" height="1" fill="#000"/>
<rect x="4" y="866" width="1620" height="1" fill="#000"/>
<rect x="1623" y="104" width="1" height="1" fill="#778899"/>
<rect x="5" y="110" width="1619" height="3" fill="#000"/>
<rect x="1624" y="111" width="1" height="1" fill="#000"/>
<rect x="5" y="162" width="1619" height="3" fill="#000"/>
<rect x="1624" y="163" width="1" height="1" fill="#000"/>
<rect x="5" y="322" width="1619" height="3" fill="#0000cd"/>
<rect x="1624" y="323" width="1" height="1" fill="#0000cd"/>
<rect x="5" y="402" width="1619" height="3" fill="#0000cd"/>
<rect x="1624" y="403" width="1" height="1" fill="#0000cd"/>
<rect x="1624" y="23" width="2" height="1" fill="#000"/>
<rect x="1624" y="56" width="2" height="1" fill="#000"/>
<rect x="1624" y="89" width="2" height="1" fill="#000"/>
<rect x="1624" y="122" width="2" height="1" fill="#000"/>
<rect x="1624" y="155" width="2" height="1" fill="#000"/>
<rect x="1624" y="188" width="2" height="1" fill="#000"/>
<rect x="1624" y="221" width="2" height="1" fill="#000"/>
<rect x="1624" y="254" width="2" height="1" fill="#000"/>
<rect x="1624" y="287" width="2" height="1" fill="#000"/>
<rect x="1624" y="320" width="2" height="1" fill="#000"/>
<rect x="1624" y="353" width="2" height="1" fill="#000"/>
<rect x="1624" y="386" width="2" height="1" fill="#000"/>
<rect x="1624" y="419" width="2" height="1" fill="#000"/>
<rect x="1624" y="452" width="2" height="1" fill="#000"/>
<rect x="1624" y="485" width="2" height="1" fill="#000"/>
<rect x="1624" y="518" width="2" height="1" fill="#000"/>
<rect x="1624" y="551" width="2" height="1" fill="#000"/>
<rect x="1624" y="584" width="2" height="1" fill="#000"/>
<rect x="1624" y="617" width="2" height="1" fill="#000"/>
<rect x="1624" y="650" width="2" height="1" fill="#000"/>
<rect x="1624" y="657" width="1" height="1" fill="#000"/>
<rect x="1624" y="767" width="1" height="1" fill="#000"/>
<rect x="1624" y="865" width="1" height="1" fill="#000"/>
<rect x="5" y="867" width="1" height="3" fill="#000"/>
<rect x="69" y="867" width="1" height="3" fill="#000"/>
<rect x="133" y="867" width="1" height="3" fill="#000"/>
<rect x="197" y="867" width="1" height="3" fill="#000"/>
<rect x="261" y="867" width="1" height="3" fill="#000"/>
<rect x="325" y="867" width="1" height="3" fill="#000"/>
<rect x="389" y="867" width="1" height="3" fill="#000"/>
<rect x="453" y="867" width="1" height="3" fill="#000"/>
<rect x="517" y="867" width="1" height="3" fill="#000"/>
<rect x="581" y="867" width="1" height="3" fill="#000"/>
<rect x="645" y="867" width="1" height="3" fill="#000"/>
<rect x="709" y="867" width="1" height="3" fill="#000"/>
<rect x="773" y="867" width="1" height="3" fill="#000"/>
<rect x="837" y="867" width="1" height="3" fill="#000"/>
<rect x="901" y="867" width="1" height="3" fill="#000"/>
<rect x="965" y="867" width="1" height="3" fill="#000"/>
<rect x="1029" y="867" width="1" height="3" fill="#000"/>
<rect x="1093" y="867" width="1" height="3" fill="#000"/>
<rect x="1157" y="867" width="1" height="3" fill="#000"/>
<rect x="1221" y="867" width="1" height="3" fill="#000"/>
<rect x="1285" y="867" width="1" height="3" fill="#000"/>
<rect x="1625" y="99" width="41" height="11" fill="#000"/>
<rect x="1625" y="105" width="41" height="11" fill="#000"/>
<rect x="1625" y="157" width="41" height="11" fill="#000"/>
<rect x="1625" y="317" width="41" height="11" fill="#0000cd"/>
<rect x="1625" y="397" width="41" height="11" fill="#0000cd"/>
<polygon points="1292.5,5 1303,5 1297.7,10.3" fill="#708090"/>
<polyline points="5.5,816.2 13.5,822.4 21.5,829.9 29.5,835.5 37.5,840.5 45.5,845.5 53.5,847.4 61.5,848.6 69.5,849.3 77.5,847.1 85.5,842.8 93.5,836.6 101.5,828.8 109.5,820.2 117.5,811.0 125.5,801.3 133.5,791.2 141.5,781.8 149.5,773.9 157.5,767.4 165.5,762.9 173.5,759.9 181.5,758.3 189.5,757.8 197.5,758.4 205.5,760.1 213.5,762.2 221.5,765.3 229.5,768.6 237.5,771.7 245.5,774.4 253.5,776.8 261.5,778.9 269.5,779.9 277.5,780.0 285.5,779.3 293.5,777.3 301.5,774.6 309.5,771.0 317.5,765.0 325.5,756.8 333.5,746.8 341.5,736.1 349.5,725.0 357.5,713.8 365.5,703.1 373.5,694.0 381.5,686.3 389.5,681.6 397.5,679.7 405.5,680.2 413.5,682.7 421.5,686.6 429.5,691.4 437.5,696.6 445.5,701.6 453.5,706.0 461.5,710.2 469.5,713.8 477.5,716.7 485.5,719.2 493.5,721.3 501.5,723.2 509.5,724.7 517.5,725.0 525.5,725.0 533.5,724.6 541.5,724.2 549.5,724.0 557.5,723.6 565.5,722.9 573.5,721.9 581.5,721.0 589.5,720.2 597.5,719.6 605.5,719.1 613.5,718.2 621.5,717.0 629.5,715.6 637.5,714.2 645.5,713.0 653.5,711.3 661.5,709.8 669.5,708.3 677.5,707.0 685.5,706.1 693.5,705.8 701.5,706.1 709.5,707.4 717.5,709.6 725.5,711.7 733.5,713.8 741.5,715.7 749.5,715.7 757.5,714.0 765.5,711.0 773.5,706.9 781.5,701.3 789.5,694.7 797.5,688.3 805.5,682.7 813.5,677.8 821.5,675.3 829.5,675.1 837.5,676.4 845.5,679.2 853.5,683.2 861.5,688.2 869.5,694.0 877.5,699.9 885.5,705.6 893.5,711.9 901.5,718.4 909.5,725.0 917.5,731.3 925.5,737.4 933.5,743.3 941.5,748.9 949.5,754.6 957.5,760.2 965.5,764.9 973.5,769.4 981.5,774.0 989.5,778.1 997.5,781.8 1005.5,784.9 1013.5,788.2 1021.5,791.3 1029.5,794.1 1037.5,796.8 1045.5,799.2 1053.5,801.1 1061.5,802.9 1069.5,805.0 1077.5,807.2 1085.5,808.9 1093.5,810.0 1101.5,810.8 1109.5,810.9 1117.5,810.2 1125.5,809.8 1133.5,808.7 1141.5,806.3 1149.5,803.3 1157.5,799.7 1165.5,795.7 1173.5,791.4 1181.5,787.6 1189.5,784.0 1197.5,779.9 1205.5,776.4 1213.5,773.9 1221.5,771.7 1229.5,769.3 1237.5,766.7 1245.5,764.0 1253.5,760.9 1261.5,757.4 1269.5,753.8 1277.5,749.1 1285.5,743.6" fill="none" stroke="#ff0000" stroke-width="2.2" stroke-linejoin="round"/>
</g>
<line x1="1298.7" y1="164.7" x2="1322.4" y2="67.5" stroke="#ff0000" stroke-width="6" stroke-linecap="round"/><polygon points="1330.45,33.1 1310.9,64.4 1333.9,70.7" fill="#ff0000"/>
<g shape-rendering="crispEdges">
<rect x="8" y="11" width="7" height="1" fill="#000"/>
<rect x="9" y="12" width="5" height="1" fill="#000"/>
<rect x="10" y="13" width="3" height="1" fill="#000"/>
<rect x="11" y="14" width="1" height="1" fill="#000"/>
</g>
<text x="20" y="16" xml:space="preserve" textLength="186.5" lengthAdjust="spacingAndGlyphs">DJ30-,H4&#160; 34564.0 34701.0 34547.0 34625.0</text>
<text x="9" y="668" textLength="123" lengthAdjust="spacingAndGlyphs">MACD(12,26,9) 100.83 48.48</text>
<text x="1629" y="27" textLength="33.3" lengthAdjust="spacingAndGlyphs">34932.0</text>
<text x="1629" y="60" textLength="33.3" lengthAdjust="spacingAndGlyphs">34806.0</text>
<text x="1629" y="93" textLength="33.3" lengthAdjust="spacingAndGlyphs">34683.5</text>
<text x="1629" y="126" textLength="33.3" lengthAdjust="spacingAndGlyphs">34557.5</text>
<text x="1629" y="159" textLength="33.3" lengthAdjust="spacingAndGlyphs">34435.0</text>
<text x="1629" y="192" textLength="33.3" lengthAdjust="spacingAndGlyphs">34309.0</text>
<text x="1629" y="225" textLength="33.3" lengthAdjust="spacingAndGlyphs">34186.5</text>
<text x="1629" y="258" textLength="33.3" lengthAdjust="spacingAndGlyphs">34060.5</text>
<text x="1629" y="291" textLength="33.3" lengthAdjust="spacingAndGlyphs">33938.0</text>
<text x="1629" y="357" textLength="33.3" lengthAdjust="spacingAndGlyphs">33689.5</text>
<text x="1629" y="390" textLength="33.3" lengthAdjust="spacingAndGlyphs">33563.5</text>
<text x="1629" y="423" textLength="33.3" lengthAdjust="spacingAndGlyphs">33437.5</text>
<text x="1629" y="456" textLength="33.3" lengthAdjust="spacingAndGlyphs">33315.0</text>
<text x="1629" y="489" textLength="33.3" lengthAdjust="spacingAndGlyphs">33189.0</text>
<text x="1629" y="522" textLength="33.3" lengthAdjust="spacingAndGlyphs">33066.5</text>
<text x="1629" y="555" textLength="33.3" lengthAdjust="spacingAndGlyphs">32940.5</text>
<text x="1629" y="588" textLength="33.3" lengthAdjust="spacingAndGlyphs">32818.0</text>
<text x="1629" y="621" textLength="33.3" lengthAdjust="spacingAndGlyphs">32692.0</text>
<text x="1629" y="654" textLength="33.3" lengthAdjust="spacingAndGlyphs">32569.5</text>
<text x="1629" y="108" style="fill:#fff;stroke:#fff" textLength="33.3" lengthAdjust="spacingAndGlyphs">34625.0</text>
<rect x="1625" y="105" width="41" height="11" fill="#000" shape-rendering="crispEdges"/>
<text x="1629" y="114" style="fill:#fff;stroke:#fff" textLength="33.3" lengthAdjust="spacingAndGlyphs">34600.0</text>
<text x="1629" y="166" style="fill:#fff;stroke:#fff" textLength="33.3" lengthAdjust="spacingAndGlyphs">34403.3</text>
<text x="1629" y="326" style="fill:#fff;stroke:#fff" textLength="33.3" lengthAdjust="spacingAndGlyphs">33800.0</text>
<text x="1629" y="406" style="fill:#fff;stroke:#fff" textLength="33.3" lengthAdjust="spacingAndGlyphs">33500.0</text>
<text x="1627" y="666" textLength="28.3" lengthAdjust="spacingAndGlyphs">230.96</text>
<text x="1627" y="771" textLength="18.2" lengthAdjust="spacingAndGlyphs">0.00</text>
<text x="1627" y="863" textLength="31.2" lengthAdjust="spacingAndGlyphs">-207.14</text>
<text x="4" y="879" textLength="55" lengthAdjust="spacingAndGlyphs">25 May 2023</text>
<text x="68" y="879" textLength="58" lengthAdjust="spacingAndGlyphs">26 May 08:00</text>
<text x="132" y="879" textLength="58" lengthAdjust="spacingAndGlyphs">29 May 16:00</text>
<text x="196" y="879" textLength="58" lengthAdjust="spacingAndGlyphs">31 May 00:00</text>
<text x="260" y="879" textLength="47.5" lengthAdjust="spacingAndGlyphs">1 Jun 08:00</text>
<text x="324" y="879" textLength="47.5" lengthAdjust="spacingAndGlyphs">2 Jun 16:00</text>
<text x="388" y="879" textLength="47.5" lengthAdjust="spacingAndGlyphs">6 Jun 00:00</text>
<text x="452" y="879" textLength="47.5" lengthAdjust="spacingAndGlyphs">7 Jun 08:00</text>
<text x="516" y="879" textLength="47.5" lengthAdjust="spacingAndGlyphs">8 Jun 16:00</text>
<text x="580" y="879" textLength="53" lengthAdjust="spacingAndGlyphs">12 Jun 00:00</text>
<text x="644" y="879" textLength="53" lengthAdjust="spacingAndGlyphs">13 Jun 08:00</text>
<text x="708" y="879" textLength="53" lengthAdjust="spacingAndGlyphs">14 Jun 16:00</text>
<text x="772" y="879" textLength="53" lengthAdjust="spacingAndGlyphs">16 Jun 00:00</text>
<text x="836" y="879" textLength="53" lengthAdjust="spacingAndGlyphs">19 Jun 08:00</text>
<text x="900" y="879" textLength="53" lengthAdjust="spacingAndGlyphs">20 Jun 16:00</text>
<text x="964" y="879" textLength="53" lengthAdjust="spacingAndGlyphs">22 Jun 00:00</text>
<text x="1028" y="879" textLength="53" lengthAdjust="spacingAndGlyphs">23 Jun 08:00</text>
<text x="1092" y="879" textLength="53" lengthAdjust="spacingAndGlyphs">26 Jun 16:00</text>
<text x="1156" y="879" textLength="53" lengthAdjust="spacingAndGlyphs">28 Jun 00:00</text>
<text x="1220" y="879" textLength="53" lengthAdjust="spacingAndGlyphs">29 Jun 08:00</text>
<text x="1284" y="879" textLength="53" lengthAdjust="spacingAndGlyphs">30 Jun 16:00</text>
</svg></body></html>
